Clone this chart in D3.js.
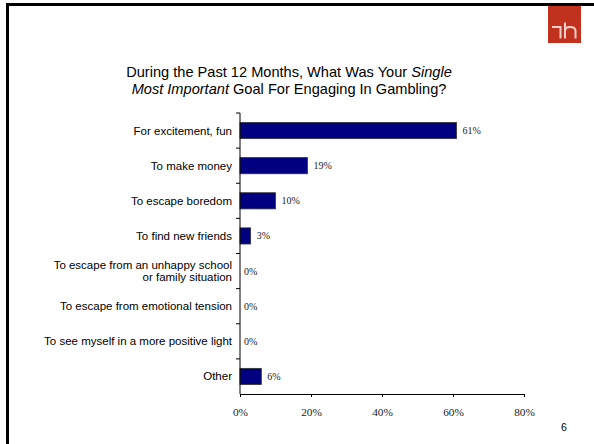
<!DOCTYPE html>
<html>
<head>
<meta charset="utf-8">
<script src="https://cdn.jsdelivr.net/npm/d3@7"></script>
<style>
  html, body { margin: 0; padding: 0; background: #fff; }
  svg { display: block; }
</style>
</head>
<body>
<svg id="chart" width="594" height="444"></svg>
<script>
// Survey responses: single most important goal for gambling
const categories = [
  "For excitement, fun",
  "To make money",
  "To escape boredom",
  "To find new friends",
  "To escape from an unhappy school|or family situation",
  "To escape from emotional tension",
  "To see myself in a more positive light",
  "Other"
];
const values = [61, 19, 10, 3, 0, 0, 0, 6];
const xTicks = [0, 20, 40, 60, 80];
const titleLines = [
  [["During the Past 12 Months, What Was Your ", false], ["Single", true]],
  [["Most Important", true], [" Goal For Engaging In Gambling?", false]]
];
const pageNumber = "6";

const svg = d3.select("#chart");

// slide frame: heavy rule across the top and down the left edge
svg.append("line").attr("x1", 6).attr("x2", 594).attr("y1", 4.5).attr("y2", 4.5)
  .attr("stroke", "#000").attr("stroke-width", 3);
svg.append("line").attr("x1", 7.5).attr("x2", 7.5).attr("y1", 3).attr("y2", 444)
  .attr("stroke", "#000").attr("stroke-width", 3);

// corner logo
const logo = svg.append("g").attr("transform", "translate(548,6)");
logo.append("rect").attr("width", 33).attr("height", 37).attr("fill", "#c0321e");
logo.append("path")
  .attr("d", "M4,21 L12.5,21 L12.5,32.5 M17,16.5 L17,32.5 M17,25 Q17,21 22,21 Q27.5,21 27.5,25 L27.5,32.5")
  .attr("fill", "none").attr("stroke", "#f3cfc8").attr("stroke-width", 2);

// title
const title = svg.append("text")
  .attr("text-anchor", "middle")
  .attr("font-family", "Liberation Sans, Arial, sans-serif")
  .attr("font-size", 14.6)
  .attr("fill", "#000");
titleLines.forEach((line, i) => {
  const t = title.append("tspan").attr("x", 289).attr("y", 77 + i * 17);
  line.forEach(([txt, it]) => {
    t.append("tspan").text(txt).attr("font-style", it ? "italic" : "normal");
  });
});

// plot area
const plotLeft = 240, plotRight = 524, plotTop = 113, plotBottom = 394;

const x = d3.scaleLinear().domain([0, 80]).range([plotLeft, plotRight]);
const y = d3.scaleBand().domain(categories).range([plotTop, plotBottom]).paddingInner(0.54).paddingOuter(0.27);
const band = d3.scaleBand().domain(categories).range([plotTop, plotBottom]);

// bars
svg.append("g").selectAll("rect")
  .data(categories)
  .join("rect")
  .attr("x", x(0))
  .attr("y", d => y(d))
  .attr("width", (d, i) => x(values[i]) - x(0))
  .attr("height", y.bandwidth())
  .attr("fill", "#000080")
  .attr("stroke", "#333")
  .attr("stroke-width", 0.8);

// value labels
svg.append("g").selectAll("text")
  .data(categories)
  .join("text")
  .attr("x", (d, i) => x(values[i]) + (values[i] > 0 ? 6 : 4))
  .attr("y", d => band(d) + band.bandwidth() / 2)
  .attr("dy", "0.35em")
  .attr("font-family", "Liberation Serif, Times New Roman, serif")
  .attr("font-size", 10)
  .attr("fill", "#222")
  .text((d, i) => values[i] + "%");

// y axis (category boundaries as outward ticks)
const yAxis = svg.append("g");
yAxis.append("line").attr("x1", plotLeft).attr("x2", plotLeft).attr("y1", plotTop).attr("y2", plotBottom)
  .attr("stroke", "#000").attr("stroke-width", 1);
yAxis.selectAll("line.tick")
  .data(categories)
  .join("line")
  .attr("class", "tick")
  .attr("x1", plotLeft - 4).attr("x2", plotLeft)
  .attr("y1", d => band(d)).attr("y2", d => band(d))
  .attr("stroke", "#000");

// category labels
yAxis.selectAll("text")
  .data(categories)
  .join("text")
  .attr("text-anchor", "end")
  .attr("font-family", "Liberation Sans, Arial, sans-serif")
  .attr("font-size", 11.5)
  .attr("fill", "#000")
  .each(function (d) {
    const parts = d.split("|");
    const cy = band(d) + band.bandwidth() / 2;
    const t = d3.select(this);
    parts.forEach((p, k) => {
      t.append("tspan")
        .attr("x", plotLeft - 8)
        .attr("y", cy + (k - (parts.length - 1) / 2) * 12.5)
        .attr("dy", "0.35em")
        .text(p);
    });
  });

// x axis
const xAxis = svg.append("g").attr("transform", `translate(0,${plotBottom})`)
  .call(d3.axisBottom(x).tickValues(xTicks).tickSize(3).tickSizeOuter(0).tickFormat(d => d + "%"));
xAxis.select(".domain").attr("stroke", "#000");
xAxis.selectAll(".tick line").attr("stroke", "#000");
xAxis.selectAll(".tick text")
  .attr("font-family", "Liberation Serif, Times New Roman, serif")
  .attr("font-size", 11.3)
  .attr("fill", "#222")
  .attr("y", 14);

// page number
svg.append("text")
  .attr("x", 564).attr("y", 430.5)
  .attr("text-anchor", "middle")
  .attr("font-family", "Liberation Sans, Arial, sans-serif")
  .attr("font-size", 10.5)
  .attr("fill", "#000")
  .text(pageNumber);
</script>
</body>
</html>
